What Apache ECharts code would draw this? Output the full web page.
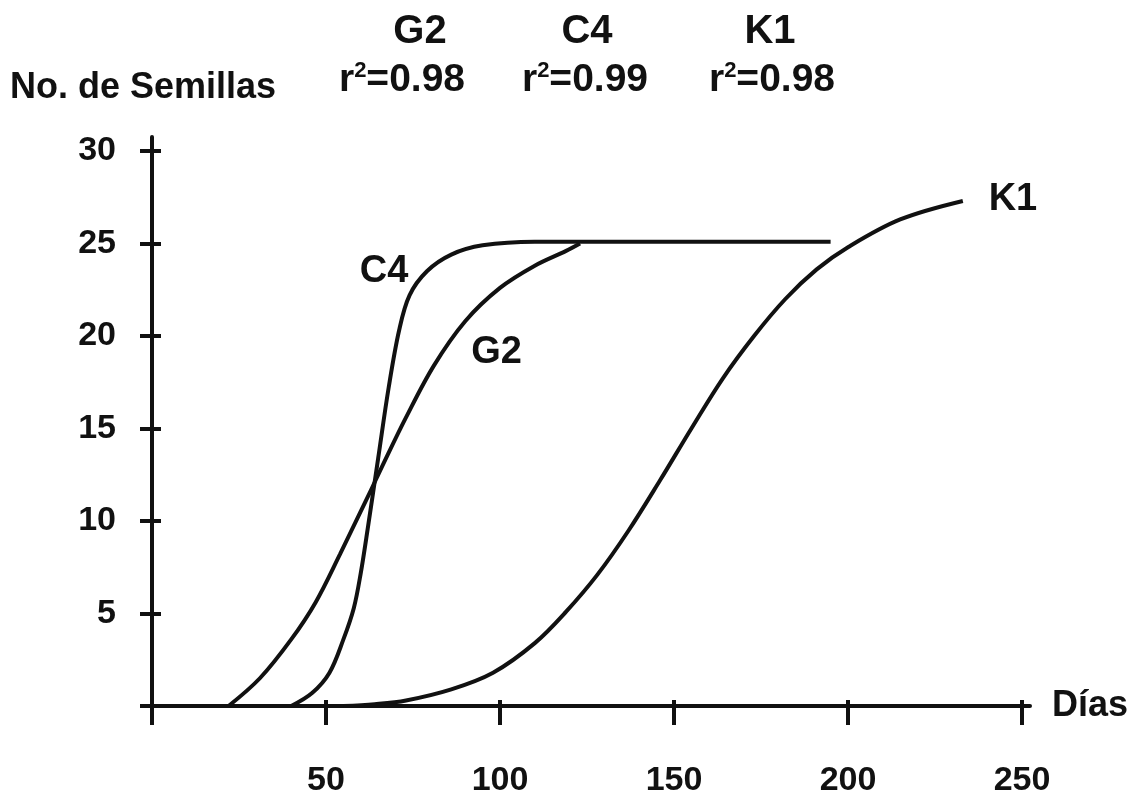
<!DOCTYPE html>
<html>
<head>
<meta charset="utf-8">
<script src="https://cdn.jsdelivr.net/npm/echarts@6/dist/echarts.min.js"></script>
<style>
html, body { margin: 0; padding: 0; background: #fff; }
#chart { width: 1136px; height: 804px; }
</style>
</head>
<body>
<div id="chart"></div>
<script>
// 数据：天数 / 种子数
const g2Days  = [22, 31, 40, 47, 54, 63, 66, 73, 81, 90, 100, 110, 119, 123];
const g2Seeds = [0, 1.5, 3.6, 5.6, 8.2, 11.7, 12.9, 15.6, 18.4, 20.8, 22.6, 23.8, 24.6, 25];

const c4Days  = [40, 46, 51, 55, 58, 60, 62, 65, 68, 71, 74, 79, 86, 95, 110, 195];
const c4Seeds = [0, 0.7, 1.8, 3.6, 5.3, 7.2, 9.6, 13.4, 17.2, 20.3, 22.2, 23.5, 24.4, 24.9, 25.1, 25.1];

const k1Days  = [55, 64, 73, 86, 98, 110, 119, 128, 137, 146, 155, 164, 173, 182, 191, 200, 215, 233];
const k1Seeds = [0, 0.1, 0.3, 0.9, 1.8, 3.4, 5.1, 7.1, 9.5, 12.2, 15.0, 17.7, 20.0, 22.0, 23.6, 24.8, 26.3, 27.3];

// 曲线标签位置（数据坐标）
const curveLabels = [
    { name: 'C4', at: [66.7, 23.5] },
    { name: 'G2', at: [99, 19.1] },
    { name: 'K1', at: [247.4, 27.4] }
];

// 顶部 r² 标注
const fitHeaders = [
    { name: 'G2', r2: '0.98', x: 420, rx: 402 },
    { name: 'C4', r2: '0.99', x: 587, rx: 585 },
    { name: 'K1', r2: '0.98', x: 770, rx: 772 }
];

const xTicks = { min: 0, max: 250, interval: 50 };
const yTicks = { min: 0, max: 30, interval: 5 };

const FONT = '"Liberation Sans", Arial, sans-serif';
const INK = '#111';

function pairs(xs, ys) {
    return xs.map((x, i) => [x, ys[i]]);
}

function lineSeries(name, xs, ys) {
    const lab = curveLabels.find(l => l.name === name);
    return {
        name: name,
        type: 'line',
        xAxisIndex: 0,
        yAxisIndex: 0,
        data: pairs(xs, ys),
        smooth: 0.35,
        symbol: 'none',
        lineStyle: { color: INK, width: 4 },
        markPoint: {
            symbol: 'circle',
            symbolSize: 0,
            itemStyle: { color: 'transparent' },
            label: {
                show: true, position: 'inside', formatter: name,
                color: INK, fontFamily: FONT, fontWeight: 'bold', fontSize: 38
            },
            data: [{ coord: lab.at }]
        }
    };
}

const chart = echarts.init(document.getElementById('chart'));

// 顶部标注
const graphics = [{
    type: 'text', left: 10, top: 70,
    style: { text: 'No. de Semillas', fill: INK, font: 'bold 36px ' + FONT }
}];
fitHeaders.forEach(h => {
    graphics.push({
        type: 'text', x: h.x, y: 32,
        style: { text: h.name, fill: INK, font: 'bold 40px ' + FONT, align: 'center', verticalAlign: 'middle' }
    });
    graphics.push({
        type: 'text', x: h.rx, y: 80,
        style: {
            text: '{r|r}{s|2}{v|=' + h.r2 + '}',
            align: 'center', verticalAlign: 'middle',
            rich: {
                r: { fill: INK, font: 'bold 39px ' + FONT, lineHeight: 40 },
                s: { fill: INK, font: 'bold 22px ' + FONT, verticalAlign: 'top', lineHeight: 40 },
                v: { fill: INK, font: 'bold 39px ' + FONT, lineHeight: 40 }
            }
        }
    });
});

const option = {
    backgroundColor: '#fff',
    animation: false,
    graphic: graphics,
    grid: [
        { left: 152, right: 114, top: 151, bottom: 98 },
        // 只用于画略长的坐标轴线
        { left: 152, right: 106, top: 137, bottom: 98 }
    ],
    xAxis: [
        {
            type: 'value', gridIndex: 0, min: xTicks.min, max: xTicks.max, interval: xTicks.interval,
            name: 'Días', nameLocation: 'end', nameGap: 30,
            nameTextStyle: { color: INK, fontFamily: FONT, fontWeight: 'bold', fontSize: 36, verticalAlign: 'middle', align: 'left' },
            axisLine: { show: false },
            axisTick: { show: true, inside: false, length: 19, lineStyle: { color: INK, width: 4 } },
            axisLabel: {
                margin: 58, color: INK, fontFamily: FONT, fontWeight: 'bold', fontSize: 34,
                formatter: v => (v === 0 ? '' : v)
            },
            splitLine: { show: false }
        },
        {
            type: 'value', gridIndex: 0, position: 'bottom', min: xTicks.min, max: xTicks.max, interval: xTicks.interval,
            axisLine: { show: false },
            axisTick: { show: true, inside: true, length: 6, lineStyle: { color: INK, width: 4 } },
            axisLabel: { show: false },
            splitLine: { show: false }
        },
        {
            type: 'value', gridIndex: 1, min: 0, max: 1,
            axisLine: { show: true, onZero: false, lineStyle: { color: INK, width: 4 } },
            axisTick: { show: false }, axisLabel: { show: false }, splitLine: { show: false }
        }
    ],
    yAxis: [
        {
            type: 'value', gridIndex: 0, min: yTicks.min, max: yTicks.max, interval: yTicks.interval,
            axisLine: { show: false },
            axisTick: { show: true, inside: false, length: 12, lineStyle: { color: INK, width: 4 } },
            axisLabel: {
                margin: 36, color: INK, fontFamily: FONT, fontWeight: 'bold', fontSize: 34,
                formatter: v => (v === 0 ? '' : v)
            },
            splitLine: { show: false }
        },
        {
            type: 'value', gridIndex: 0, position: 'left', min: yTicks.min, max: yTicks.max, interval: yTicks.interval,
            axisLine: { show: false },
            axisTick: { show: true, inside: true, length: 9, lineStyle: { color: INK, width: 4 } },
            axisLabel: { show: false },
            splitLine: { show: false }
        },
        {
            type: 'value', gridIndex: 1, min: 0, max: 1,
            axisLine: { show: true, onZero: false, lineStyle: { color: INK, width: 4 } },
            axisTick: { show: false }, axisLabel: { show: false }, splitLine: { show: false }
        }
    ],
    series: [
        lineSeries('G2', g2Days, g2Seeds),
        lineSeries('C4', c4Days, c4Seeds),
        lineSeries('K1', k1Days, k1Seeds)
    ]
};

chart.setOption(option);
</script>
</body>
</html>
